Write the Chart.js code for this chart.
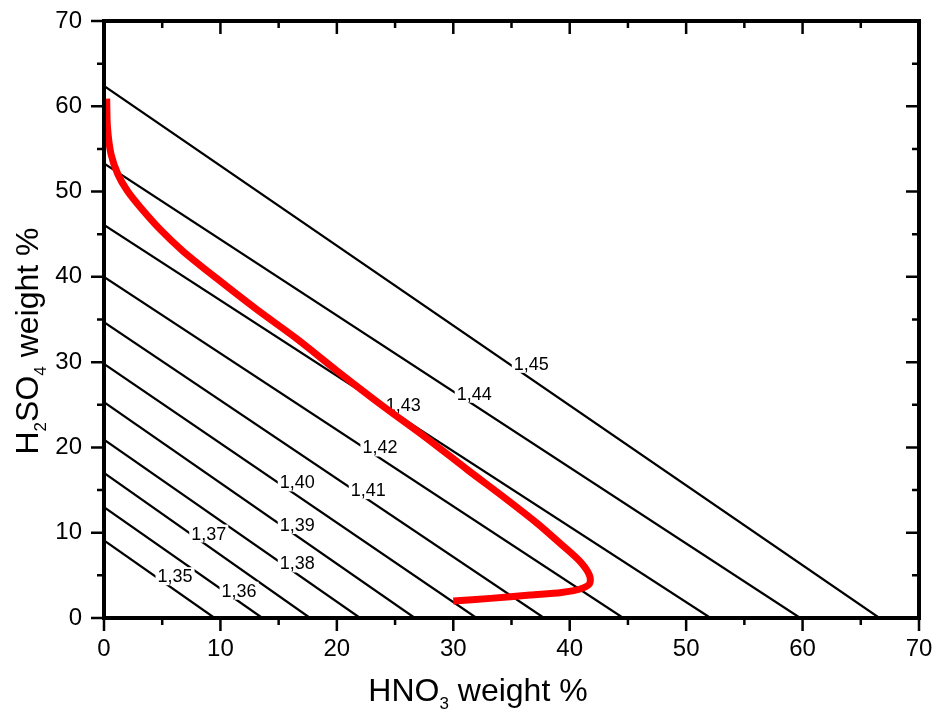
<!DOCTYPE html>
<html>
<head>
<meta charset="utf-8">
<title>HNO3 / H2SO4 density</title>
<script src="https://cdn.jsdelivr.net/npm/chart.js@4.4.1/dist/chart.umd.min.js"></script>
<style>
  html, body { margin: 0; background: #fff; }
  canvas { display: block; }
</style>
</head>
<body>
<canvas id="mix" width="933" height="715"></canvas>
<script>
// density isolines: each runs from (0, h2so4Start) to (hno3End, 0)
const densityLabels = ["1,35", "1,36", "1,37", "1,38", "1,39", "1,40", "1,41", "1,42", "1,43", "1,44", "1,45"];
const h2so4Start = [9.1, 13.0, 17.0, 20.9, 25.3, 29.8, 34.7, 40.0, 46.1, 53.3, 62.4];
const hno3End    = [9.5, 13.6, 17.7, 22.0, 26.7, 32.0, 37.8, 44.6, 52.1, 59.8, 66.6];

// where each density label sits (HNO3 %, H2SO4 %)
const labelHno3  = [6.1, 11.6, 9.0, 16.6, 16.6, 16.6, 22.7, 23.7, 25.7, 31.8, 36.7];
const labelH2so4 = [4.9, 3.2, 9.9, 6.4, 10.9, 15.9, 15.0, 20.0, 25.0, 26.3, 29.8];

// red composition curve
const curveHno3  = [0.23, 0.3, 0.6, 1.2, 2.0, 3.1, 4.8, 6.8, 9.7, 13.1, 16.5, 20.0, 24.0, 27.6, 31.2, 34.6, 37.3, 39.3, 40.9, 41.7, 41.7, 40.9, 39.3, 36.6, 33.2, 30.0];
const curveH2so4 = [60.9, 57.5, 54.4, 52.0, 50.1, 48.2, 45.6, 43.0, 39.8, 36.2, 32.8, 29.0, 24.8, 21.2, 17.4, 13.9, 11.0, 8.6, 6.6, 5.0, 4.0, 3.4, 3.0, 2.7, 2.3, 2.0];

const majorTicks = [0, 10, 20, 30, 40, 50, 60, 70];
const minorTicks = [5, 15, 25, 35, 45, 55, 65];

const FONT = "'Liberation Sans', Arial, sans-serif";

const datasets = [{
  data: curveHno3.map((x, i) => ({ x: x, y: curveH2so4[i] })),
  borderColor: "#ff0000",
  borderWidth: 7,
  borderCapStyle: "butt",
  tension: 0.3,
  pointRadius: 0,
  showLine: true
}];

densityLabels.forEach((lab, i) => {
  datasets.push({
    data: [{ x: 0, y: h2so4Start[i] }, { x: hno3End[i], y: 0 }],
    borderColor: "#000",
    borderWidth: 2.2,
    pointRadius: 0,
    showLine: true
  });
});

function drawRich(ctx, parts, x, y) {
  // parts: [text, isSubscript]
  let w = 0;
  parts.forEach(p => {
    ctx.font = (p[1] ? "17px " : "32px ") + FONT;
    w += ctx.measureText(p[0]).width;
  });
  let cx = x - w / 2;
  parts.forEach(p => {
    ctx.font = (p[1] ? "17px " : "32px ") + FONT;
    ctx.fillText(p[0], cx, p[1] ? y + 8 : y);
    cx += ctx.measureText(p[0]).width;
  });
}

const decorations = {
  id: "decorations",
  beforeDatasetDraw(chart, args) {
    if (args.index !== 0) return;
    // density labels on white boxes, under the red curve
    const ctx = chart.ctx;
    const xs = chart.scales.x, ys = chart.scales.y;
    ctx.save();
    ctx.font = "18px " + FONT;
    ctx.textAlign = "center";
    ctx.textBaseline = "middle";
    densityLabels.forEach((lab, i) => {
      const px = xs.getPixelForValue(labelHno3[i]);
      const py = ys.getPixelForValue(labelH2so4[i]);
      const w = ctx.measureText(lab).width;
      ctx.fillStyle = "#fff";
      ctx.fillRect(px - w / 2 - 2, py - 9, w + 4, 18);
      ctx.fillStyle = "#000";
      ctx.fillText(lab, px, py + 1);
    });
    ctx.restore();
  },
  afterDatasetsDraw(chart) {
    const ctx = chart.ctx;
    const a = chart.chartArea;
    const xs = chart.scales.x, ys = chart.scales.y;
    ctx.save();
    ctx.strokeStyle = "#000";
    ctx.lineWidth = 2.5;
    ctx.beginPath();
    const tick = (vals, len) => {
      vals.forEach(v => {
        const x = xs.getPixelForValue(v);
        ctx.moveTo(x, a.bottom); ctx.lineTo(x, a.bottom + len);
        ctx.moveTo(x, a.top); ctx.lineTo(x, a.top + len);
        const y = ys.getPixelForValue(v);
        ctx.moveTo(a.left - len, y); ctx.lineTo(a.left, y);
        ctx.moveTo(a.right - len, y); ctx.lineTo(a.right, y);
      });
    };
    tick(majorTicks, 13);
    tick(minorTicks, 7);
    ctx.stroke();
    ctx.lineWidth = 4;
    ctx.lineJoin = "miter";
    ctx.strokeRect(a.left, a.top, a.right - a.left, a.bottom - a.top);
    ctx.restore();
  },
  afterDraw(chart) {
    const ctx = chart.ctx;
    ctx.save();
    ctx.fillStyle = "#000";
    ctx.textAlign = "left";
    ctx.textBaseline = "alphabetic";
    drawRich(ctx, [["HNO", false], ["3", true], [" weight %", false]], 478, 701);
    ctx.translate(38, 341);
    ctx.rotate(-Math.PI / 2);
    drawRich(ctx, [["H", false], ["2", true], ["SO", false], ["4", true], [" weight %", false]], 0, 0);
    ctx.restore();
  }
};

const axisTicks = scale => { scale.ticks = majorTicks.map(v => ({ value: v })); };
// no extra room for overhanging tick labels; the layout padding sets the frame
const noOverhang = s => { s.paddingTop = s.paddingBottom = s.paddingLeft = s.paddingRight = 0; };

new Chart(document.getElementById("mix"), {
  type: "scatter",
  data: { datasets: datasets },
  plugins: [decorations],
  options: {
    responsive: false,
    animation: false,
    events: [],
    layout: { padding: { top: 21, right: 14, left: 0, bottom: 0 } },
    plugins: { legend: { display: false }, tooltip: { enabled: false } },
    scales: {
      x: {
        type: "linear", min: 0, max: 70,
        afterBuildTicks: axisTicks,
        afterFit: s => { s.height = 97; noOverhang(s); },
        grid: { display: false, drawTicks: false },
        border: { display: false },
        ticks: { padding: 17, color: "#000", font: { family: FONT, size: 24 }, maxRotation: 0 }
      },
      y: {
        type: "linear", min: 0, max: 70,
        afterBuildTicks: axisTicks,
        afterFit: s => { s.width = 104; noOverhang(s); },
        grid: { display: false, drawTicks: false },
        border: { display: false },
        ticks: { padding: 22, color: "#000", font: { family: FONT, size: 24 } }
      }
    }
  }
});
</script>
</body>
</html>
